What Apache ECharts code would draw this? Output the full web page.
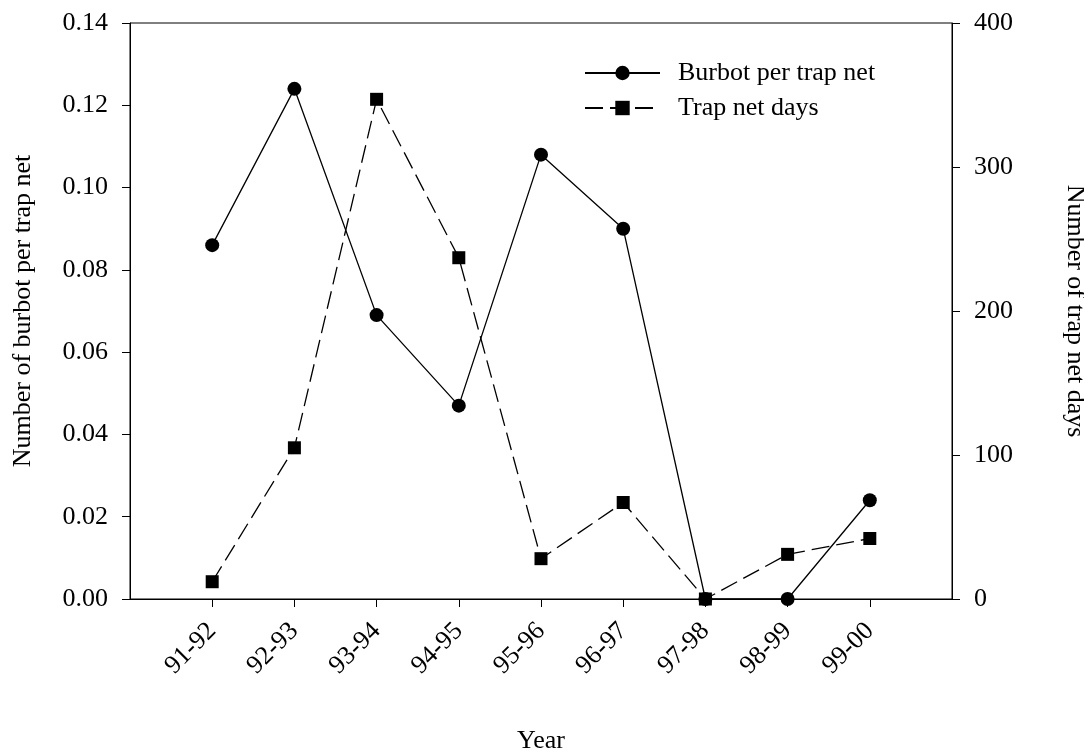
<!DOCTYPE html>
<html>
<head>
<meta charset="utf-8">
<script src="https://cdn.jsdelivr.net/npm/echarts@6/dist/echarts.min.js"></script>
<style>
html,body{margin:0;padding:0;background:#fff;}
#chart{width:1084px;height:752px;}
</style>
</head>
<body>
<div id="chart"></div>
<script>
const categories = ['91-92','92-93','93-94','94-95','95-96','96-97','97-98','98-99','99-00'];
const burbotPerNet = [0.086, 0.124, 0.069, 0.047, 0.108, 0.090, 0.0, 0.0, 0.024];
const trapNetDays = [12, 105, 347, 237, 28, 67, 0, 31, 42];
const leftTicks = [0, 0.02, 0.04, 0.06, 0.08, 0.10, 0.12, 0.14];
const rightTicks = [0, 100, 200, 300, 400];

const FONT = '"Liberation Serif", "Times New Roman", serif';
const FS = 26;
const positions = categories.map((c, i) => i + 1);

const chart = echarts.init(document.getElementById('chart'), null, {renderer: 'canvas'});
const axisCommon = {
  axisLine: {show: true, lineStyle: {color: '#000', width: 1}},
  axisTick: {show: true, inside: false, length: 8, lineStyle: {color: '#000', width: 1}},
  splitLine: {show: false},
  nameTextStyle: {color: '#000', fontFamily: FONT, fontSize: FS},
};
chart.setOption({
  backgroundColor: '#fff',
  animation: false,
  textStyle: {fontFamily: FONT, color: '#000'},
  grid: {left: 130, right: 132, top: 23, bottom: 153, containLabel: false, outerBoundsMode: 'none',
         show: true, borderColor: '#000', borderWidth: 1, backgroundColor: 'transparent'},
  legend: {
    orient: 'vertical',
    left: 579,
    top: 55,
    itemWidth: 75,
    itemHeight: 18,
    itemGap: 9,
    textStyle: {fontFamily: FONT, fontSize: FS, color: '#000', lineHeight: 26, padding: [0, 0, 0, 13]},
    data: ['Burbot per trap net', 'Trap net days']
  },
  xAxis: Object.assign({}, axisCommon, {
    type: 'value',
    min: 0, max: 10, interval: 1,
    name: 'Year', nameLocation: 'middle', nameGap: 129,
    axisTick: {show: true, length: 8, lineStyle: {color: '#000'}, customValues: positions},
    axisLabel: {
      customValues: positions,
      rotate: 45, margin: 28,
      fontFamily: FONT, fontSize: FS, color: '#000',
      formatter: v => categories[Math.round(v) - 1] || ''
    }
  }),
  yAxis: [
    Object.assign({}, axisCommon, {
      type: 'value', position: 'left',
      min: leftTicks[0], max: leftTicks[leftTicks.length - 1], interval: 0.02,
      name: 'Number of burbot per trap net', nameLocation: 'middle', nameGap: 94,
      axisLabel: {margin: 22, fontFamily: FONT, fontSize: FS, color: '#000', formatter: v => v.toFixed(2)}
    }),
    Object.assign({}, axisCommon, {
      type: 'value', position: 'right',
      min: rightTicks[0], max: rightTicks[rightTicks.length - 1], interval: 100,
      name: 'Number of trap net days', nameLocation: 'middle', nameGap: 110, nameRotate: -90,
      axisLabel: {margin: 22, fontFamily: FONT, fontSize: FS, color: '#000'}
    })
  ],
  series: [
    {
      name: 'Burbot per trap net',
      type: 'line',
      yAxisIndex: 0,
      data: burbotPerNet.map((v, i) => [positions[i], v]),
      symbol: 'circle', symbolSize: 14,
      itemStyle: {color: '#000'},
      lineStyle: {color: '#000', width: 1.3, type: 'solid'},
      clip: false
    },
    {
      name: 'Trap net days',
      type: 'line',
      yAxisIndex: 1,
      data: trapNetDays.map((v, i) => [positions[i], v]),
      symbol: 'rect', symbolSize: 13,
      itemStyle: {color: '#000'},
      lineStyle: {color: '#000', width: 1.3, type: [18, 7]},
      clip: false
    }
  ]
});
</script>
</body>
</html>
